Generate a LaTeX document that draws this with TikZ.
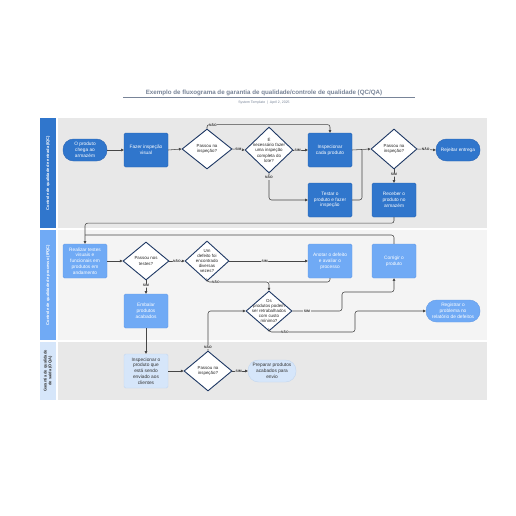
\documentclass[tikz,border=0pt]{standalone}
\usepackage{fontspec}
\setmainfont{Liberation Sans}
\usetikzlibrary{arrows.meta,shapes.geometric}
\definecolor{cDark}{RGB}{48,118,204}
\definecolor{cDarkB}{RGB}{40,100,180}
\definecolor{cLight}{RGB}{112,170,245}
\definecolor{cLightB}{RGB}{100,155,230}
\definecolor{cVLight}{RGB}{214,230,250}
\definecolor{cVLightB}{RGB}{195,215,240}
\definecolor{cNavy}{RGB}{30,56,100}
\definecolor{cLaneA}{RGB}{232,232,232}
\definecolor{cLaneB}{RGB}{244,244,244}
\definecolor{cLine}{RGB}{70,70,70}
\definecolor{cTitle}{RGB}{120,132,152}
\tikzset{
  basebox/.style={rectangle, rounded corners=1.5pt, line width=0.4pt, minimum width=44pt, minimum height=34pt, align=center, font=\fontsize{4.8}{5.8}\selectfont, inner sep=1pt},
  dbox/.style={basebox, fill=cDark, draw=cDarkB, text=white},
  lbox/.style={basebox, fill=cLight, draw=cLightB, text=white},
  vbox/.style={basebox, fill=cVLight, draw=cVLightB, text=black!80},
  pill/.style={rounded corners=10.5pt, minimum height=22pt},
  dia/.style={diamond, draw=cNavy, line width=0.9pt, fill=white, inner sep=0pt, minimum width=#1},
  dtext/.style={align=center, font=\fontsize{4.4}{5.2}\selectfont, inner sep=0pt, text=black!85},
  conn/.style={draw=cLine, line width=0.55pt, rounded corners=2.5pt},
  arr/.style={conn, -{Triangle[length=2.6pt,width=2.6pt]}},
  lbl/.style={font=\fontsize{3.4}{4}\selectfont\bfseries, fill=#1, inner sep=0.6pt, text=black!80},
  lanel/.style={font=\fontsize{4}{4.8}\selectfont\bfseries, rotate=90, align=center},
}
\begin{document}
\begin{tikzpicture}[x=1pt,y=-1pt]
\useasboundingbox (0,0) rectangle (516,516);
\fill[white] (0,0) rectangle (516,516);
% title
\node[font=\fontsize{6.2}{7}\selectfont\bfseries, text=cTitle] (title) at (264,92.5) {Exemplo de fluxograma de garantia de qualidade/controle de qualidade (QC/QA)};
\draw[cTitle, line width=0.5pt] (123,97.7) -- (415,97.7);
\node[font=\fontsize{3.5}{4}\selectfont, text=cTitle] (sub) at (264,103) {System Template \ | \ April 2, 2025};
% lanes
\fill[cLaneA] (58,118) rectangle (487,228);
\fill[cLaneB] (58,230) rectangle (487,340);
\fill[cLaneA] (58,342) rectangle (487,400);
\fill[cDark] (40,118) rectangle (56,228);
\fill[cLight] (40,230) rectangle (56,340);
\fill[cVLight] (40,342) rectangle (56,400);
\node[lanel, text=white] (l1) at (48,173) {Controle de qualidade de entrada (IQC)};
\node[lanel, text=white] (l2) at (48,285) {Controle de qualidade de processo (IPQC)};
\node[lanel, text=black!80] (l3) at (48,371) {Garantia de qualidade\\de saída (OQA)};
% lane 1 nodes
\node[dbox, pill, minimum width=44pt] (p1) at (85,150) {O produto\\chega ao\\armazém};
\node[dbox] (vis) at (146,150) {Fazer inspeção\\visual};
\node[dia=50pt, minimum height=40pt] (d1) at (207,149) {};
\node[dtext] (d1t) at (d1) {Passou na\\inspeção?};
\node[dia=48pt, minimum height=46pt] (d2) at (269,150) {};
\node[dtext] (d2t) at (d2) {É\\necessário fazer\\uma inspeção\\completa do\\lote?};
\node[dbox] (insp) at (330,150) {Inspecionar\\cada produto};
\node[dia=46pt, minimum height=40pt] (d3) at (394,149) {};
\node[dtext] (d3t) at (d3) {Passou na\\inspeção?};
\node[dbox, pill, minimum width=44pt] (rej) at (458,150) {Rejeitar entrega};
\node[dbox] (test) at (330,200) {Testar o\\produto e fazer\\inspeção};
\node[dbox] (rec) at (394,200) {Receber o\\produto no\\armazém};
% lane 2 nodes
\node[lbox] (real) at (85,261) {Realizar testes\\visuais e\\funcionais em\\produtos em\\andamento};
\node[dia=46pt, minimum height=38pt] (d4) at (146,261) {};
\node[dtext] (d4t) at (d4) {Passou nos\\testes?};
\node[dia=44pt, minimum height=40pt] (d5) at (207,261) {};
\node[dtext] (d5t) at (d5) {Um\\defeito foi\\encontrado\\diversas\\vezes?};
\node[lbox] (anot) at (330,261) {Anotar o defeito\\e avaliar o\\processo};
\node[lbox] (corr) at (394,261) {Corrigir o\\produto};
\node[lbox] (emb) at (146,311) {Embalar\\produtos\\acabados};
\node[dia=46pt, minimum height=40pt] (d6) at (269,311) {};
\node[dtext] (d6t) at (d6) {Os\\produtos podem\\ser retrabalhados\\com custo\\mínimo?};
\node[lbox, pill, minimum width=54pt] (reg) at (453,311) {Registrar o\\problema no\\relatório de defeitos};
% lane 3 nodes
\node[vbox] (insp2) at (146,371) {Inspecionar o\\produto que\\está sendo\\enviado aos\\clientes};
\node[dia=48pt, minimum height=40pt] (d7) at (208,371) {};
\node[dtext] (d7t) at (d7) {Passou na\\inspeção?};
\node[vbox, pill, minimum width=48pt] (prep) at (272,371) {Preparar produtos\\acabados para\\envio};
% helper coordinates
\coordinate (m1) at (362,150);
\coordinate (j1) at (85,224);
\coordinate (j2) at (85,235);
\coordinate (j3) at (269,282);
% lane 1 connectors
\draw[arr] (p1.east) -- (vis.west);
\draw[arr] (vis.east) -- (d1.west);
\draw[arr] (d1.north) -- ++(0,-4) -| (insp.north);
\node[lbl=cLaneA] (n1) at (213,125) {NÃO};
\draw[arr] (d1.east) -- node[lbl=cLaneA] (s1) {SIM} (d2.west);
\draw[arr] (d2.east) -- node[lbl=cLaneA, pos=0.3] (s2) {SIM} (insp.west);
\draw[arr] (d2.south) |- (test.west);
\node[lbl=cLaneA] (n2) at (269,177.5) {NÃO};
\draw[arr] (insp.east) -- (d3.west);
\draw[conn] (test.east) -| (m1);
\draw[arr] (d3.east) -- node[lbl=cLaneA, pos=0.45] (n3) {NÃO} (rej.west);
\draw[arr] (d3.south) -- node[lbl=cLaneA, pos=0.4] (s3) {SIM} (rec.north);
\draw[arr] (rec.south) -- ++(0,6) -| (real.north);
\draw[conn] (corr.north) |- (j2);
% lane 2 connectors
\draw[arr] (real.east) -- (d4.west);
\draw[arr] (d4.east) -- node[lbl=cLaneB] (n4) {NÃO} (d5.west);
\draw[arr] (d4.south) -- node[lbl=cLaneB, pos=0.4] (s4) {SIM} (emb.north);
\draw[arr] (d5.east) -- node[lbl=cLaneB, pos=0.45] (s5) {SIM} (anot.west);
\draw[arr] (d5.south) |- (j3) -- (d6.north);
\node[lbl=cLaneB] (n5) at (216,282) {NÃO};
\draw[conn] (anot.south) |- (j3);
\draw[arr] (d6.east) -- (342,311) -- (342,292) -| (corr.south);
\node[lbl=cLaneB] (s6) at (307,311) {SIM};
\draw[arr] (d6.south) |- (355,332) |- (reg.west);
\node[lbl=cLaneB] (n6) at (285,332) {NÃO};
\draw[arr] (emb.south) -- (insp2.north);
% lane 3 connectors
\draw[arr] (insp2.east) -- (d7.west);
\draw[arr] (d7.east) -- node[lbl=cLaneA, pos=0.4] (s7) {SIM} (prep.west);
\draw[arr] (d7.north) |- (d6.west);
\node[lbl=cLaneA] (n7) at (208,347) {NÃO};
\end{tikzpicture}
\end{document}
